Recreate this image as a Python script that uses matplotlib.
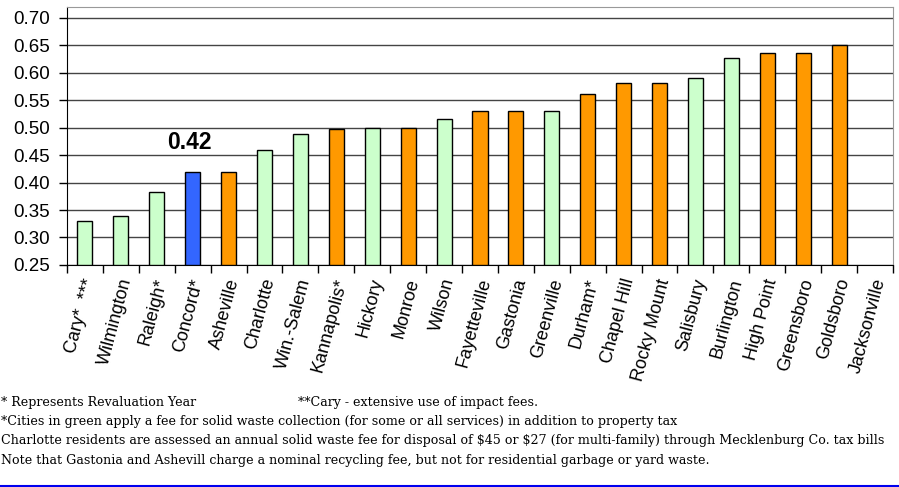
import matplotlib.pyplot as plt
from matplotlib.lines import Line2D

cities = ['Cary*  ***', 'Wilmington', 'Raleigh*', 'Concord*', 'Asheville', 'Charlotte',
          'Win.-Salem', 'Kannapolis*', 'Hickory', 'Monroe', 'Wilson', 'Fayetteville',
          'Gastonia', 'Greenville', 'Durham*', 'Chapel Hill', 'Rocky Mount', 'Salisbury',
          'Burlington', 'High Point', 'Greensboro', 'Goldsboro', 'Jacksonville']
rates = [0.33, 0.34, 0.382, 0.42, 0.42, 0.459, 0.489, 0.498, 0.50, 0.50, 0.516, 0.531,
         0.531, 0.531, 0.561, 0.582, 0.582, 0.591, 0.626, 0.635, 0.635, 0.65, None]
# g = fee for solid waste collection, o = no fee, b = Concord
groups = ['g', 'g', 'g', 'b', 'o', 'g', 'g', 'o', 'g', 'o', 'g', 'o',
          'o', 'g', 'o', 'o', 'o', 'g', 'g', 'o', 'o', 'o', 'o']
colors = {'g': '#CCFFCC', 'o': '#FF9900', 'b': '#3366FF'}
yticks = [0.25, 0.30, 0.35, 0.40, 0.45, 0.50, 0.55, 0.60, 0.65, 0.70]
highlight = 3

notes = [
    '* Represents Revaluation Year',
    '*Cities in green apply a fee for solid waste collection (for some or all services) in addition to property tax',
    r'Charlotte residents are assessed an annual solid waste fee for disposal of \$45 or \$27 (for multi-family) through Mecklenburg Co. tax bills',
    'Note that Gastonia and Ashevill charge a nominal recycling fee, but not for residential garbage or yard waste.',
]
cary_note = '**Cary - extensive use of impact fees.'

fig = plt.figure(figsize=(8.99, 4.87), dpi=100)
ax = fig.add_axes([0.0745, 0.456, 0.9188, 0.530])

for i, (v, g) in enumerate(zip(rates, groups)):
    if v is None:
        continue
    ax.bar(i, v - 0.25, bottom=0.25, width=0.42, color=colors[g],
           edgecolor='black', linewidth=1.0, zorder=3)

ax.text(highlight - 0.1, rates[highlight] + 0.053, f'{rates[highlight]:.2f}',
        ha='center', va='center', fontsize=16.5, fontweight='bold',
        family='Liberation Sans')

ax.set_xlim(-0.5, len(cities) - 0.5)
ax.set_ylim(0.25, 0.72)
ax.set_yticks(yticks)
ax.set_yticklabels([f'{t:.2f}' for t in yticks], family='Liberation Sans', fontsize=13.5)
ax.yaxis.grid(True, color='#444444', linewidth=1.0, zorder=0)
ax.tick_params(axis='y', length=6, width=1, pad=6.5)

# x ticks sit on the category boundaries, labels on the centres
ax.set_xticks([i - 0.5 for i in range(len(cities) + 1)])
ax.set_xticklabels([])
ax.tick_params(axis='x', length=6, width=1)
for i, name in enumerate(cities):
    ax.annotate(name, xy=(i, 0.25), xytext=(4, -10), textcoords='offset points',
                xycoords='data', rotation=75, rotation_mode='anchor',
                ha='right', va='center', fontsize=13, family='Liberation Sans',
                annotation_clip=False)

for s in ['top', 'right']:
    ax.spines[s].set_color('#999999')
for s in ['left', 'bottom']:
    ax.spines[s].set_color('black')

ys = [0.174, 0.134, 0.095, 0.055]
fig.text(0.001, ys[0], notes[0], fontsize=9.1, family='DejaVu Serif', va='center')
fig.text(0.331, ys[0], cary_note, fontsize=9.1, family='DejaVu Serif', va='center')
for y, t in zip(ys[1:], notes[1:]):
    fig.text(0.001, y, t, fontsize=9.1, family='DejaVu Serif', va='center')

fig.add_artist(Line2D([0, 1], [0.002, 0.002], color='#0000EE', linewidth=1.5,
                      transform=fig.transFigure))

fig.savefig('out.png', dpi=100)
